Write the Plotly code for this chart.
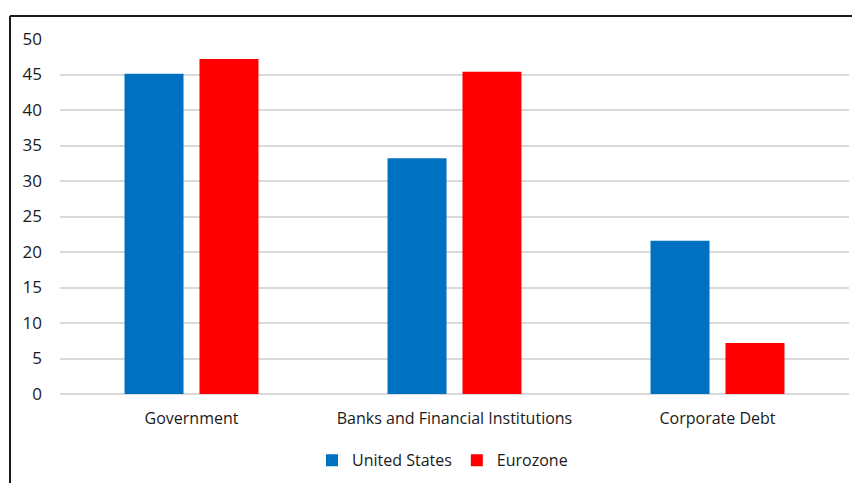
import plotly.graph_objects as go

categories = ["Government", "Banks and Financial Institutions", "Corporate Debt"]
us_values = [45.1, 33.2, 21.6]
ez_values = [47.2, 45.4, 7.2]
y_ticks = [0, 5, 10, 15, 20, 25, 30, 35, 40, 45, 50]

FONT = "Open Sans"

fig = go.Figure()
fig.add_trace(go.Bar(name="United States", x=categories, y=us_values,
                     marker=dict(color="#0070C0", line=dict(width=0))))
fig.add_trace(go.Bar(name="Eurozone", x=categories, y=ez_values,
                     marker=dict(color="#FF0000", line=dict(width=0))))

# page has an 8px body margin; work in screen coordinates and offset
OFF = 8
W, H = 860 - OFF, 483 - OFF
L, R, T, B = 60 - OFF, 11, 38.5 - OFF, 483 - 394.5
pw = W - L - R
ph = H - T - B

def px_x(x):
    return (x - OFF - L) / pw

def px_y(y):
    return (H - B - (y - OFF)) / ph

fig.update_layout(
    width=W, height=H,
    margin=dict(l=L, r=R, t=T, b=B, autoexpand=False),
    paper_bgcolor="white", plot_bgcolor="white",
    barmode="group", bargap=0.43, bargroupgap=0.213,
    font=dict(family=FONT, size=16, color="#1a1a1a"),
    showlegend=True,
    legend=dict(orientation="h", x=px_x(442.5), xanchor="center", y=px_y(461), yanchor="middle",
                font=dict(family=FONT, size=16, color="#1a1a1a"), itemwidth=30,
                traceorder="normal"),
    xaxis=dict(showgrid=False, showline=False, ticks="", tickfont=dict(size=16),
               ticklabelstandoff=13, automargin=False),
    yaxis=dict(range=[0, 50], tickvals=y_ticks, showgrid=True, gridcolor="#d9d9d9",
               gridwidth=1.5, zeroline=True, zerolinecolor="#d9d9d9", zerolinewidth=2,
               showline=False, ticks="", tickfont=dict(size=17), ticklabelstandoff=17,
               automargin=False),
    shapes=[
        dict(type="line", xref="paper", yref="paper", x0=px_x(10), x1=px_x(880),
             y0=px_y(15.5), y1=px_y(15.5), line=dict(color="#1a1a1a", width=2)),
        dict(type="line", xref="paper", yref="paper", x0=px_x(10), x1=px_x(10),
             y0=px_y(15.5), y1=px_y(500), line=dict(color="#1a1a1a", width=2)),
    ],
)

fig.write_html("out.html")
